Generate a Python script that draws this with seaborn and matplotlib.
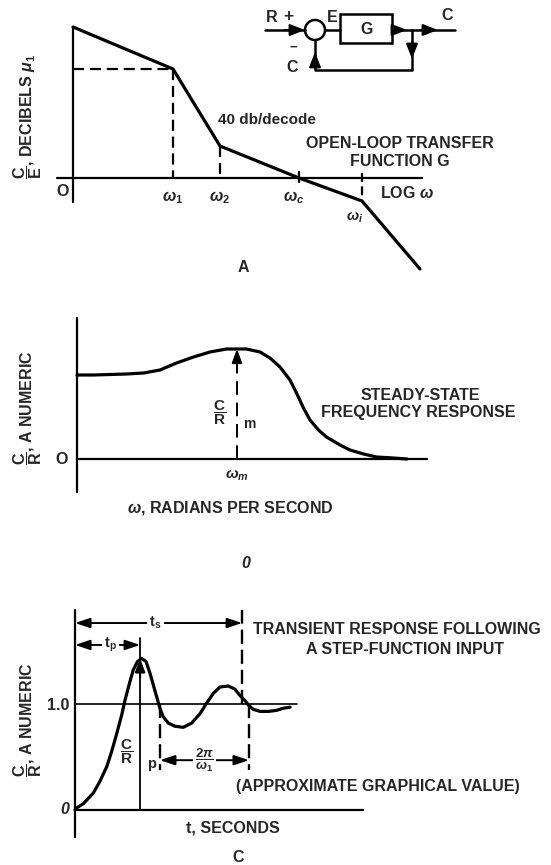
import matplotlib
matplotlib.use("Agg")
import matplotlib.pyplot as plt
import seaborn as sns
from matplotlib.patches import Circle, Rectangle

# ---------------- data ----------------
# Panel A: asymptotic open-loop gain, log(omega) vs decibels
bode_logw = [0.0, 2.0, 2.94, 4.52, 5.78, 6.94]
bode_db = [30.2, 21.8, 6.4, 0.0, -4.6, -18.2]
bode_break_labels = ["", r"$\omega_1$", r"$\omega_2$", r"$\omega_c$", r"$\omega_i$", ""]

# Panel B: steady-state frequency response C/R vs omega
freq_w = [0.0, 0.33, 0.99, 1.33, 1.66, 1.99, 2.33, 2.66, 2.99, 3.19, 3.39, 3.66,
          3.86, 4.06, 4.26, 4.39, 4.53, 4.66, 4.83, 4.99, 5.26, 5.46, 5.73, 5.99,
          6.33, 6.6]
freq_mag = [0.84, 0.84, 0.85, 0.86, 0.89, 0.96, 1.02, 1.07, 1.10, 1.10, 1.10, 1.07,
            1.01, 0.92, 0.79, 0.66, 0.51, 0.39, 0.29, 0.22, 0.14, 0.09, 0.05, 0.02,
            0.01, 0.0]
w_m = 3.2
mag_m = 1.10

# Panel C: transient step response C/R vs t
step_t = [0.0, 0.06, 0.28, 0.61, 0.83, 1.06, 1.22, 1.39, 1.56, 1.67, 1.83, 1.94,
          2.08, 2.22, 2.37, 2.5, 2.61, 2.72, 2.83, 2.94, 3.11, 3.33, 3.61, 3.89,
          4.17, 4.39, 4.61, 4.83, 5.11, 5.33, 5.5, 5.67, 5.78, 5.94, 6.17, 6.44,
          6.72, 6.94, 7.17]
step_y = [0.0, 0.02, 0.06, 0.16, 0.27, 0.41, 0.55, 0.72, 0.90, 1.04, 1.21, 1.32,
          1.40, 1.43, 1.40, 1.29, 1.18, 1.07, 0.96, 0.88, 0.82, 0.79, 0.78, 0.82,
          0.91, 1.01, 1.10, 1.16, 1.17, 1.14, 1.08, 1.03, 0.99, 0.95, 0.93, 0.93,
          0.94, 0.96, 0.97]
t_p = 2.17       # time to peak
t_s = 5.57       # settling time
t_cross = 2.83   # first down-crossing of 1.0
t_period_end = 5.8
step_final = 1.0

# ---------------- style ----------------
sns.set_style("white")
plt.rcParams["font.family"] = ["Liberation Sans", "DejaVu Sans"]
plt.rcParams["font.weight"] = "bold"
plt.rcParams["mathtext.fontset"] = "custom"
plt.rcParams["mathtext.rm"] = "Liberation Sans:bold"
plt.rcParams["mathtext.bf"] = "Liberation Sans:bold"
plt.rcParams["mathtext.sf"] = "Liberation Sans:bold"
plt.rcParams["mathtext.it"] = "Liberation Sans:italic:bold"
plt.rcParams["lines.solid_joinstyle"] = "round"
plt.rcParams["lines.solid_capstyle"] = "round"

W, H = 551, 865
fig = plt.figure(figsize=(W / 100, H / 100), dpi=100)
FS = 11.5
K = "black"
LW_CURVE = 2.3
LW_AXIS = 1.6


def panel_axes(x0, sx, y0, sy):
    ax = fig.add_axes([0, 0, 1, 1])
    ax.set_xlim(-x0 / sx, (W - x0) / sx)
    ax.set_ylim((y0 - H) / sy, y0 / sy)
    ax.axis("off")
    ax.patch.set_alpha(0)
    return ax


def frac(a, b):
    return r"$\dfrac{\mathrm{%s}}{\mathrm{%s}}$" % (a, b)


def arrow(ax, tail, tip, style="-|>", lw=1.5, hl=0.7, hw=0.3):
    ax.annotate("", xy=tip, xytext=tail,
                arrowprops=dict(arrowstyle=f"{style},head_length={hl},head_width={hw}",
                                color=K, lw=lw, shrinkA=0, shrinkB=0))


axA = panel_axes(73, 50, 178, 5)
axB = panel_axes(77, 50, 459, 100)
axC = panel_axes(75, 30, 810, 106)
ov = panel_axes(0, 1, 0, -1)   # pixel overlay for labels / block diagram

# ================= Panel A =================
axA.plot([0, 0], [-4.8, bode_db[0]], color=K, lw=LW_AXIS)
axA.plot([-0.32, 6.98], [0, 0], color=K, lw=LW_AXIS)
sns.lineplot(x=bode_logw, y=bode_db, ax=axA, color=K, lw=LW_CURVE,
             sort=False, estimator=None)
dash = (0, (5, 2.6))
axA.plot([0, bode_logw[1]], [bode_db[1], bode_db[1]], color=K, lw=1.6, ls=dash)
axA.plot([bode_logw[1]] * 2, [bode_db[1], 0], color=K, lw=1.6, ls=dash)
axA.plot([bode_logw[2]] * 2, [bode_db[2], 0], color=K, lw=1.6, ls=dash)
axA.plot([bode_logw[3]] * 2, [1.2, -0.8], color=K, lw=1.6)
axA.plot([bode_logw[4]] * 2, [1.0, bode_db[4]], color=K, lw=1.6, ls=(0, (4, 2)))
for i in (1, 2, 3):
    axA.annotate(bode_break_labels[i], (bode_logw[i], 0), xytext=(0 if i < 3 else -4, -14),
                 textcoords="offset points", ha="center", va="center", fontsize=FS)
axA.annotate(bode_break_labels[4], (bode_logw[4], bode_db[4]), xytext=(-5, -12),
             textcoords="offset points", ha="center", va="center", fontsize=FS - 1)

ov.text(63, 192, "O", ha="center", va="center", fontsize=FS)
ov.text(407, 193, r"LOG $\omega$", ha="center", va="center", fontsize=FS)
ov.text(267, 120, "40 db/decode", ha="center", va="center", fontsize=FS - 0.5)
ov.text(400, 143, "OPEN-LOOP TRANSFER", ha="center", va="center", fontsize=FS)
ov.text(400, 162, "FUNCTION G", ha="center", va="center", fontsize=FS)
ov.text(243, 267, "A", ha="center", va="center", fontsize=FS)
ov.text(28, 116, frac("C", "E") + r", DECIBELS $\mu_1$", rotation=90,
        ha="center", va="center", fontsize=FS)

# block diagram (pixel overlay)
ov.plot([265, 305], [30, 30], color=K, lw=1.8)
arrow(ov, (285, 30), (305, 30), hl=0.9, hw=0.35)
ov.add_patch(Circle((315, 30), 10, fill=False, lw=1.8, ec=K))
ov.plot([325, 340], [30, 30], color=K, lw=1.8)
ov.add_patch(Rectangle((340, 14), 52, 29, fill=False, lw=1.8, ec=K))
ov.plot([392, 455], [30, 30], color=K, lw=1.8)
arrow(ov, (392, 30), (407, 30), hl=0.9, hw=0.35)
arrow(ov, (420, 30), (438, 30), hl=0.9, hw=0.35)
ov.plot([412, 412, 315, 315], [30, 70, 70, 40], color=K, lw=1.8)
arrow(ov, (412, 42), (412, 59), hl=0.9, hw=0.35)
arrow(ov, (315, 66), (315, 52), hl=0.9, hw=0.35)
ov.text(272, 18, "R", ha="center", va="center", fontsize=FS)
ov.text(288, 17, "+", ha="center", va="center", fontsize=FS + 1)
ov.text(332, 18, "E", ha="center", va="center", fontsize=FS)
ov.text(367, 29, "G", ha="center", va="center", fontsize=FS)
ov.text(447, 15, "C", ha="center", va="center", fontsize=FS)
ov.text(293, 48, "\u2212", ha="center", va="center", fontsize=FS - 2)
ov.text(292, 67, "C", ha="center", va="center", fontsize=FS)

# ================= Panel B =================
axB.plot([0, 0], [-0.33, 1.41], color=K, lw=LW_AXIS)
axB.plot([0, 7.0], [0, 0], color=K, lw=LW_AXIS)
sns.lineplot(x=freq_w, y=freq_mag, ax=axB, color=K, lw=LW_CURVE,
             sort=False, estimator=None)
axB.plot([w_m, w_m], [0, mag_m - 0.08], color=K, lw=1.4, ls=(0, (7, 4)))
arrow(axB, (w_m, mag_m - 0.12), (w_m, mag_m), hl=0.8, hw=0.3)
axB.annotate(r"$\omega_m$", (w_m, 0), xytext=(0, -12), textcoords="offset points",
             ha="center", va="center", fontsize=FS - 0.5)
ov.text(220, 413, frac("C", "R"), ha="center", va="center", fontsize=FS - 0.5)
ov.text(250, 424, "m", ha="center", va="center", fontsize=FS - 1.5)
ov.text(62, 459, "O", ha="center", va="center", fontsize=FS)
ov.text(420, 395, "STEADY-STATE", ha="center", va="center", fontsize=FS)
ov.text(418, 412, "FREQUENCY RESPONSE", ha="center", va="center", fontsize=FS)
ov.text(230, 508, r"$\omega$, RADIANS PER SECOND", ha="center", va="center", fontsize=FS)
ov.text(28, 408, frac("C", "R") + ", A NUMERIC", rotation=90,
        ha="center", va="center", fontsize=FS)

# ================= Panel C =================
axC.plot([0, 0], [-0.25, 1.887], color=K, lw=LW_AXIS)
axC.plot([0, 9.6], [0, 0], color=K, lw=LW_AXIS)
axC.plot([0, 7.4], [step_final, step_final], color=K, lw=1.2)
sns.lineplot(x=step_t, y=step_y, ax=axC, color=K, lw=LW_CURVE,
             sort=False, estimator=None)
# peak marker
axC.plot([t_p, t_p], [0, 1.62], color=K, lw=1.3)
arrow(axC, (t_p, 1.25), (t_p, 1.43), hl=0.8, hw=0.3)
# dashed guides
dC = (0, (6, 2.5))
axC.plot([t_s, t_s], [step_final, 1.887], color=K, lw=1.7, ls=dC)
axC.plot([t_cross, t_cross], [step_final, 0.377], color=K, lw=1.7, ls=dC)
axC.plot([t_period_end, t_period_end], [step_final, 0.377], color=K, lw=1.7, ls=dC)
# dimension arrows
arrow(axC, (0, 1.764), (t_s, 1.764), style="<|-|>", lw=1.4, hl=0.9, hw=0.3)
arrow(axC, (0, 1.557), (t_p, 1.557), style="<|-|>", lw=1.4, hl=0.9, hw=0.3)
arrow(axC, (t_cross, 0.47), (t_period_end, 0.47), style="<|-|>", lw=1.4, hl=0.9, hw=0.3)
wb = dict(facecolor="white", edgecolor="none", pad=1.5)
axC.text((0 + t_s) / 2 - 0.1, 1.764, r"$\mathrm{t_s}$", ha="center", va="center",
         fontsize=FS - 1, bbox=wb)
axC.text(t_p / 2 + 0.1, 1.557, r"$\mathrm{t_p}$", ha="center", va="center",
         fontsize=FS - 1, bbox=wb)
axC.text((t_cross + t_period_end) / 2, 0.47, r"$\dfrac{2\pi}{\omega_1}$",
         ha="center", va="center", fontsize=FS - 2, bbox=wb)
ov.text(127, 752, frac("C", "R"), ha="center", va="center", fontsize=FS - 0.5)
ov.text(152, 764, "p", ha="center", va="center", fontsize=FS - 1)
ov.text(58, 706, "1.0", ha="center", va="center", fontsize=FS)
ov.text(65, 810, "0", ha="center", va="center", fontsize=FS, style="italic")
ov.text(397, 629, "TRANSIENT RESPONSE FOLLOWING", ha="center", va="center", fontsize=FS)
ov.text(405, 649, "A STEP-FUNCTION INPUT", ha="center", va="center", fontsize=FS)
ov.text(378, 787, "(APPROXIMATE GRAPHICAL VALUE)", ha="center", va="center", fontsize=FS)
ov.text(233, 828, "t, SECONDS", ha="center", va="center", fontsize=FS)
ov.text(28, 720, frac("C", "R") + ", A NUMERIC", rotation=90,
        ha="center", va="center", fontsize=FS)
ov.text(246, 563, "0", ha="center", va="center", fontsize=FS, style="italic")
ov.text(238, 858, "C", ha="center", va="center", fontsize=FS)

# re-apply limits (seaborn may autoscale)
for ax, (x0, sx, y0, sy) in [(axA, (73, 50, 178, 5)), (axB, (77, 50, 459, 100)),
                             (axC, (75, 30, 810, 106)), (ov, (0, 1, 0, -1))]:
    ax.set_xlim(-x0 / sx, (W - x0) / sx)
    ax.set_ylim((y0 - H) / sy, y0 / sy)

fig.savefig("out.png", dpi=100)
